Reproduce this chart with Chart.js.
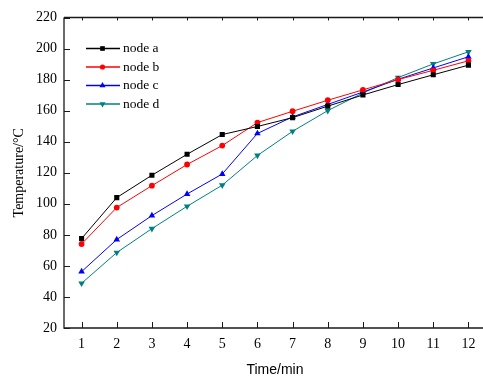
<!DOCTYPE html>
<html>
<head>
<meta charset="utf-8">
<script src="https://cdn.jsdelivr.net/npm/chart.js@4/dist/chart.umd.min.js"></script>
<style>
  html, body { margin: 0; padding: 0; background: #fff; overflow: hidden; }
  #wrap { width: 490px; height: 382px; }
</style>
</head>
<body>
<div id="wrap"><canvas id="tempChart" width="490" height="382"></canvas></div>
<script>
// Temperature of each node over time
const times = [1, 2, 3, 4, 5, 6, 7, 8, 9, 10, 11, 12];
const nodeA = [77.6, 104.0, 118.4, 131.9, 144.6, 149.8, 155.5, 162.9, 170.1, 176.8, 183.1, 189.3];
const nodeB = [74.1, 97.6, 111.7, 125.3, 137.5, 152.3, 159.6, 166.7, 173.4, 180.0, 186.0, 192.1];
const nodeC = [56.3, 77.0, 92.4, 106.3, 119.2, 145.3, 156.0, 164.0, 172.0, 180.2, 187.5, 194.7];
const nodeD = [48.8, 68.6, 84.0, 98.4, 112.0, 131.1, 146.7, 160.0, 171.4, 181.3, 190.1, 197.9];
const yTicks = [20, 40, 60, 80, 100, 120, 140, 160, 180, 200, 220];

const serif = '"Liberation Serif", "Times New Roman", serif';
const sans = '"Liberation Sans", Arial, sans-serif';
const axisColor = '#1a1a1a';

function series(label, data, color, style, radius, rotation) {
  return {
    label: label,
    data: data,
    borderColor: color,
    backgroundColor: color,
    borderWidth: 1,
    pointStyle: style,
    pointRadius: radius,
    pointRotation: rotation,
    pointBorderWidth: 0,
    pointBackgroundColor: color,
    tension: 0
  };
}

// frame with inward tick marks (left, bottom, top)
const framePlugin = {
  id: 'frame',
  afterDraw(chart) {
    const { ctx, chartArea: a, scales } = chart;
    ctx.save();
    ctx.strokeStyle = axisColor;
    ctx.lineWidth = 1.3;
    ctx.beginPath();
    ctx.moveTo(a.left, a.top);
    ctx.lineTo(a.left, a.bottom);
    ctx.lineTo(a.right + 2, a.bottom);
    ctx.moveTo(a.left, a.top);
    ctx.lineTo(a.right + 2, a.top);
    ctx.stroke();

    ctx.lineWidth = 1;
    ctx.beginPath();
    yTicks.forEach(v => {
      const y = Math.round(scales.y.getPixelForValue(v)) + 0.5;
      ctx.moveTo(a.left, y);
      ctx.lineTo(a.left + 6, y);
    });
    times.forEach((t, i) => {
      const x = Math.round(scales.x.getPixelForValue(i)) + 0.5;
      ctx.moveTo(x, a.bottom);
      ctx.lineTo(x, a.bottom - 6);
      ctx.moveTo(x, a.top);
      ctx.lineTo(x, a.top + 3);
    });
    ctx.stroke();
    ctx.restore();
  }
};

// legend: short line with marker, then label
const legendPlugin = {
  id: 'nodeLegend',
  afterDraw(chart) {
    const { ctx } = chart;
    const rows = [48.5, 67, 85.5, 104];
    ctx.save();
    chart.data.datasets.forEach((ds, i) => {
      const y = rows[i];
      ctx.strokeStyle = ds.borderColor;
      ctx.lineWidth = 1.4;
      ctx.beginPath();
      ctx.moveTo(86, y);
      ctx.lineTo(120, y);
      ctx.stroke();
      ctx.fillStyle = ds.borderColor;
      Chart.helpers.drawPoint(ctx, {
        pointStyle: ds.pointStyle,
        radius: ds.pointRadius - 0.3,
        rotation: ds.pointRotation,
        borderWidth: 0
      }, 102.5, y);
      ctx.fillStyle = '#000';
      ctx.font = '13.5px ' + serif;
      ctx.textBaseline = 'middle';
      ctx.textAlign = 'left';
      ctx.fillText(ds.label, 123, y);
    });
    ctx.restore();
  }
};

new Chart(document.getElementById('tempChart'), {
  type: 'line',
  data: {
    labels: times.map(String),
    datasets: [
      series('node a', nodeA, '#000000', 'rect', 3.6, 0),
      series('node b', nodeB, '#ff0000', 'circle', 2.9, 0),
      series('node c', nodeC, '#0000ff', 'triangle', 3.8, 0),
      series('node d', nodeD, '#008080', 'triangle', 3.8, 180)
    ]
  },
  options: {
    responsive: false,
    animation: false,
    devicePixelRatio: 1,
    layout: { padding: { top: 17.5, right: 4, left: 0, bottom: 0 } },
    plugins: {
      legend: { display: false },
      tooltip: { enabled: false }
    },
    scales: {
      x: {
        type: 'category',
        offset: true,
        grid: { display: false, drawTicks: false },
        border: { display: false },
        ticks: { color: '#000', font: { family: serif, size: 14 }, padding: 8, autoSkip: false, maxRotation: 0 },
        title: {
          display: true,
          text: 'Time/min',
          color: '#000',
          font: { family: sans, size: 14 },
          padding: { top: 0, bottom: 3 }
        },
        afterFit(scale) { scale.height = 54; }
      },
      y: {
        min: 20,
        max: 220,
        grid: { display: false, drawTicks: false },
        border: { display: false },
        afterBuildTicks(scale) { scale.ticks = yTicks.map(v => ({ value: v })); },
        ticks: { color: '#000', font: { family: serif, size: 14 }, padding: 7 },
        title: {
          display: true,
          text: 'Temperature/°C',
          color: '#000',
          font: { family: serif, size: 14 },
          padding: { top: 11, bottom: 0 }
        },
        afterFit(scale) { scale.width = 64; }
      }
    }
  },
  plugins: [framePlugin, legendPlugin]
});
</script>
</body>
</html>
